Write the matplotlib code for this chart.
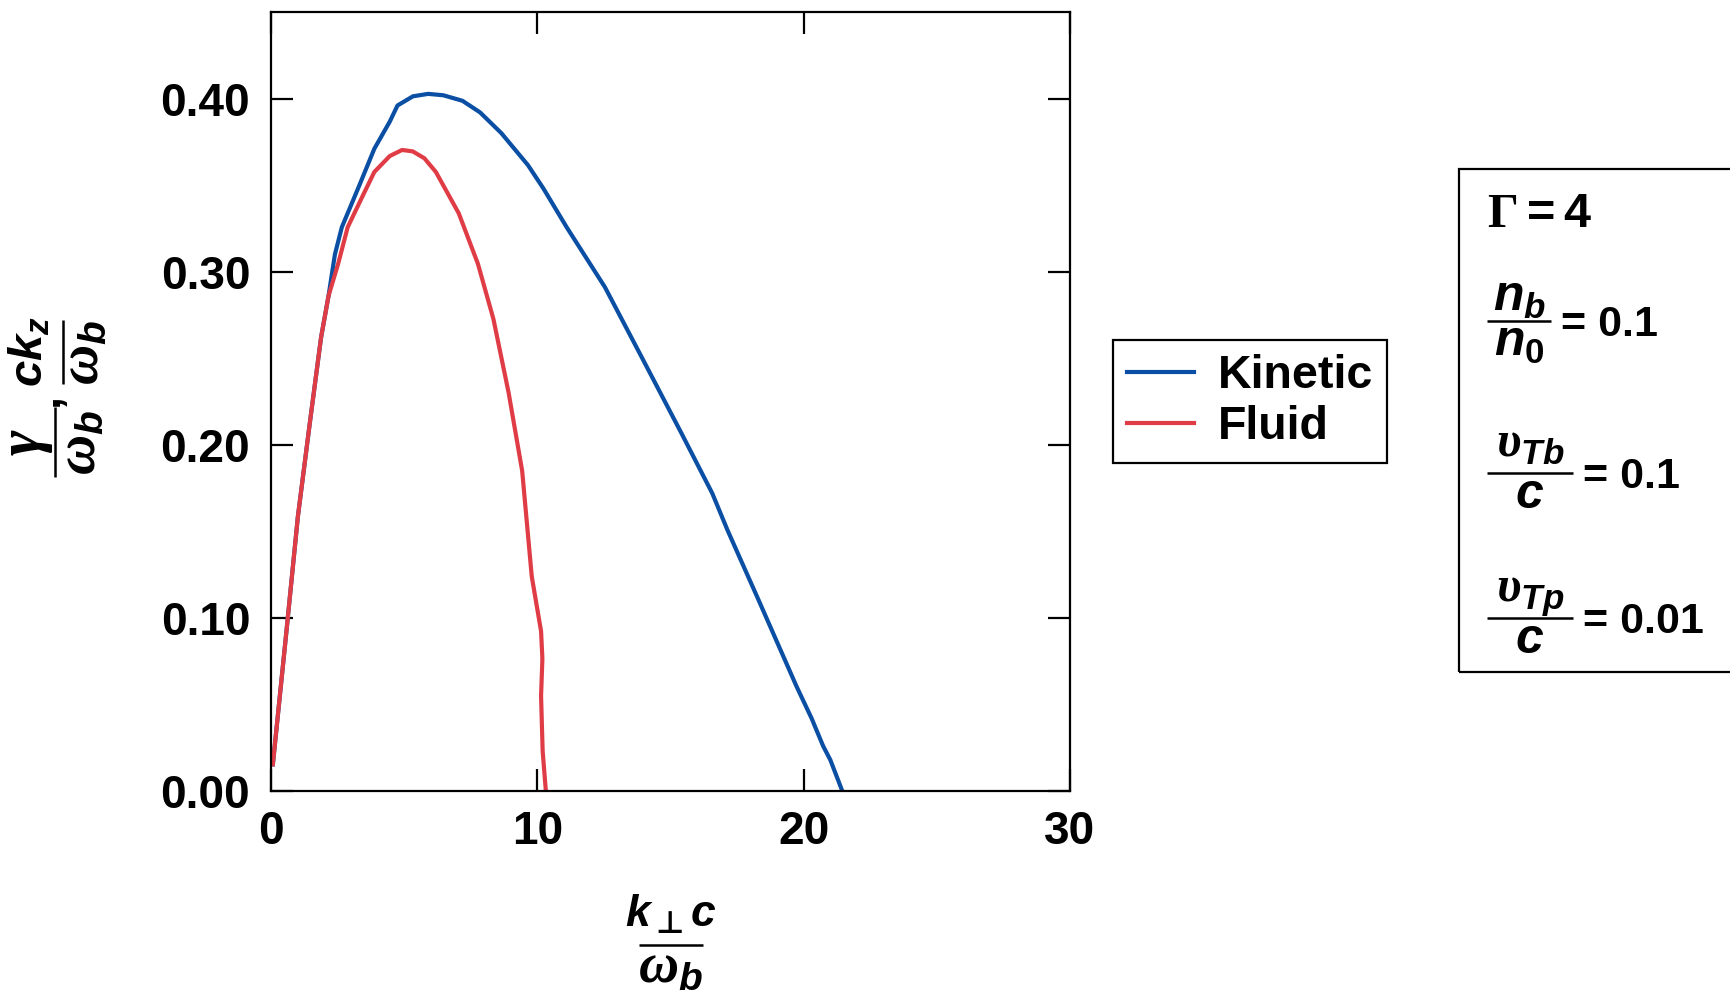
import matplotlib

matplotlib.use("Agg")
import matplotlib.pyplot as plt  # noqa: E402
from matplotlib.lines import Line2D  # noqa: E402
from matplotlib.patches import Rectangle  # noqa: E402

# growth rate vs k_perp c / omega_b
kinetic_k = [0.07, 0.58, 1.01, 1.45, 1.88, 2.16, 2.4, 2.66, 3.31, 3.88, 4.46, 4.75, 5.33,
             5.9, 6.47, 7.19, 7.85, 8.65, 9.65, 10.23, 11.1, 12.54, 13.98, 15.42, 16.57,
             17.14, 18.29, 19.73, 20.3, 20.73, 21.0, 21.45]
kinetic_rate = [0.0154, 0.0923, 0.1586, 0.2117, 0.262, 0.286, 0.31, 0.3257, 0.3496, 0.371,
                0.3867, 0.396, 0.4013, 0.4027, 0.4019, 0.3987, 0.392, 0.380, 0.3615, 0.348,
                0.3257, 0.291, 0.2488, 0.2064, 0.1719, 0.1507, 0.1109, 0.0605, 0.0419,
                0.026, 0.018, 0.0]
fluid_k = [0.07, 0.58, 1.01, 1.45, 1.88, 2.16, 2.52, 2.88, 3.45, 3.88, 4.46, 4.92, 5.32,
           5.76, 6.19, 7.05, 7.77, 8.35, 8.92, 9.43, 9.79, 10.14, 10.19, 10.14, 10.2, 10.32]
fluid_rate = [0.0154, 0.0923, 0.1586, 0.2117, 0.262, 0.286, 0.3045, 0.3257, 0.344, 0.3576,
              0.3668, 0.3703, 0.3695, 0.3655, 0.3576, 0.3337, 0.3045, 0.2727, 0.2302, 0.185,
              0.124, 0.0923, 0.0764, 0.055, 0.023, 0.0]

x_ticks = [0, 10, 20, 30]
y_ticks = [0.0, 0.1, 0.2, 0.3, 0.4]
param_num = [r"$n_b$", r"$\mathcal{\upsilon}_{Tb}$", r"$\mathcal{\upsilon}_{Tp}$"]
param_den = [r"$n_0$", r"$c$", r"$c$"]
param_val = ["= 0.1", "= 0.1", "= 0.01"]

plt.rcParams.update({
    "font.family": ["Liberation Sans", "DejaVu Sans"],
    "font.weight": "bold",
    "font.size": 33,
    "mathtext.fontset": "custom",
    "mathtext.rm": "Liberation Sans:bold",
    "mathtext.it": "Liberation Sans:bold:italic",
    "mathtext.bf": "Liberation Sans:bold",
    "mathtext.sf": "DejaVu Sans:bold",
    "mathtext.cal": "Liberation Serif:bold:italic",
    "mathtext.tt": "Liberation Serif",
    "axes.linewidth": 1.6,
})

W, H = 1730, 992
fig = plt.figure(figsize=(W / 100, H / 100), dpi=100)


def X(px):
    return px / W


def Y(py):
    return 1 - py / H


def bar(x0, y0, x1, y1):
    fig.add_artist(Line2D([X(x0), X(x1)], [Y(y0), Y(y1)], transform=fig.transFigure,
                          color="black", lw=1.8, solid_capstyle="butt"))


def put(x, y, s, size, rot=0):
    # place text by its baseline (centre of the line) at pixel (x, y)
    fig.text(X(x), Y(y), s, fontsize=size, rotation=rot, rotation_mode="anchor",
             ha="center", va="baseline")


def hfrac(xc, ybar, half, num, den, num_y, den_y, size, den_size):
    bar(xc - half, ybar, xc + half, ybar)
    put(xc, num_y, num, size)
    put(xc, den_y, den, den_size)


def vfrac(xbar, yc, half, num, den, num_x, den_x, size, den_size):
    bar(xbar, yc - half, xbar, yc + half)
    put(num_x, yc, num, size, 90)
    put(den_x, yc, den, den_size, 90)


ax = fig.add_axes([X(271), Y(791), (1070 - 271) / W, (791 - 12) / H])

ax.plot(kinetic_k, kinetic_rate, color="#0a4fa3", lw=3.0, label="Kinetic")
ax.plot(fluid_k, fluid_rate, color="#e03c46", lw=3.0, label="Fluid")

ax.set_xlim(0, 30)
ax.set_ylim(0, 0.45)
ax.set_xticks(x_ticks)
ax.set_yticks(y_ticks)
ax.set_yticklabels([f"{v:.2f}" for v in y_ticks])
ax.tick_params(direction="in", length=16, width=1.6, top=True, right=True, labelsize=33)
ax.tick_params(axis="y", pad=15)
ax.tick_params(axis="x", pad=14)

# axis labels, set as stacked fractions
hfrac(671, 945, 32, r"$k_{\mathsf{\bot}}c$", r"$\mathcal{\omega}_b$", 927, 982, 32, 40)
vfrac(55, 442, 35, r"$\mathcal{\gamma}$", r"$\mathcal{\omega}_b$", 40, 95, 44, 40)
put(58, 400, ",", 34, 90)
vfrac(63, 352, 32, r"$ck_z$", r"$\mathcal{\omega}_b$", 43, 98, 34, 40)

leg = ax.legend(loc="upper left", bbox_to_anchor=(X(1113), Y(340)),
                bbox_transform=fig.transFigure, fancybox=False, framealpha=1,
                edgecolor="black", fontsize=33.5, handlelength=1.45, borderpad=0.3,
                labelspacing=0.15, handletextpad=0.5, borderaxespad=0)
leg.get_frame().set_linewidth(1.6)

# parameter box, running off the right edge
fig.patches.append(Rectangle((X(1459), Y(672)), 400 / W, (672 - 169) / H,
                             transform=fig.transFigure, fill=False, ec="black", lw=1.6))
fig.text(X(1487), Y(227), r"$\mathtt{\Gamma} = 4$", fontsize=35, ha="left", va="baseline")
param_bar = [321, 473, 618]
param_half = [32, 43, 43]
param_lift = [10, 16, 16]
for num, den, val, yb, hw, lift in zip(param_num, param_den, param_val, param_bar,
                                       param_half, param_lift):
    hfrac(1487 + hw, yb, hw, num, den, yb - lift, yb + 35, 36, 36)
    fig.text(X(1487 + 2 * hw + 10), Y(yb + 15), val, fontsize=31, ha="left", va="baseline")

fig.savefig("out.png", dpi=100, facecolor="white")
